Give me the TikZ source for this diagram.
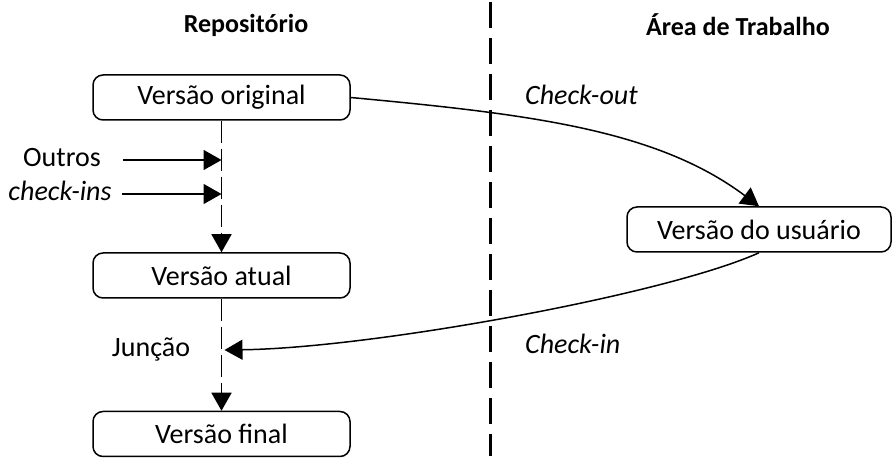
\documentclass[tikz,border=0pt]{standalone}
\usepackage{fontspec}
\setmainfont{Carlito}
\usetikzlibrary{arrows.meta,calc}
\begin{document}
\begin{tikzpicture}[x=1pt,y=1pt,
  every node/.style={font=\fontsize{28}{32}\selectfont, inner sep=0pt},
  verbox/.style={draw, line width=1.5pt, rounded corners=10pt,
    minimum width=257pt, minimum height=45pt},
  header/.style={font=\fontsize{26}{30}\selectfont\bfseries},
  flow/.style={line width=1.5pt, dash pattern=on 22pt off 6pt},
  tri/.style={-{Triangle[length=18pt,width=20pt]}},
  conn/.style={line width=1.5pt, tri},
  slanted/.style={font=\fontsize{28}{32}\selectfont\itshape, anchor=west}]
\useasboundingbox (0,0) rectangle (892,458);

% column headers and divider
\node[header] (hrep) at (246,433) {Repositório};
\node[header] (hwork) at (738,433) {Área de Trabalho};
\coordinate (dtop) at (490,456);
\coordinate (dbot) at (490,2);
\draw[line width=3pt, dash pattern=on 26pt off 10pt] (dtop) -- (dbot);

% repository versions
\node[verbox] (orig) at (221.5,360.5) {Versão original};
\node[verbox] (atual) at (221.5,182.5) {Versão atual};
\node[verbox] (final) at (221.5,24) {Versão final};

% working copy
\node[verbox, minimum width=264pt] (usr) at (759,228.5) {Versão do usuário};

% other check-ins
\node (outros) at (62,300) {Outros};
\node (ckins) at (60,267) {\itshape check-ins};
\coordinate (o1) at (123,298);
\coordinate (o2) at (122,264);
\coordinate (m1) at (orig.south |- o1);
\coordinate (m2) at (orig.south |- o2);
\draw[conn] (o1) -- (m1);
\draw[conn] (o2) -- (m2);

% version history along the repository
\draw[flow, tri] (orig.south) -- (atual.north);
\node (juncao) at (151,108) {Junção};
\coordinate (mj) at ($(atual.south |- juncao)+(3,0)$);
\draw[flow, tri] (atual.south) -- (final.north);

% check-out and check-in
\node[slanted] (ckout) at (525,363) {Check-out};
\node[slanted] (ckin) at (525,114) {Check-in};
\draw[conn] (orig.east) .. controls (527,344) and (656,329) .. (usr.north);
\draw[conn] (usr.south) .. controls (668,164) and (374,110) .. (mj);
\end{tikzpicture}
\end{document}
